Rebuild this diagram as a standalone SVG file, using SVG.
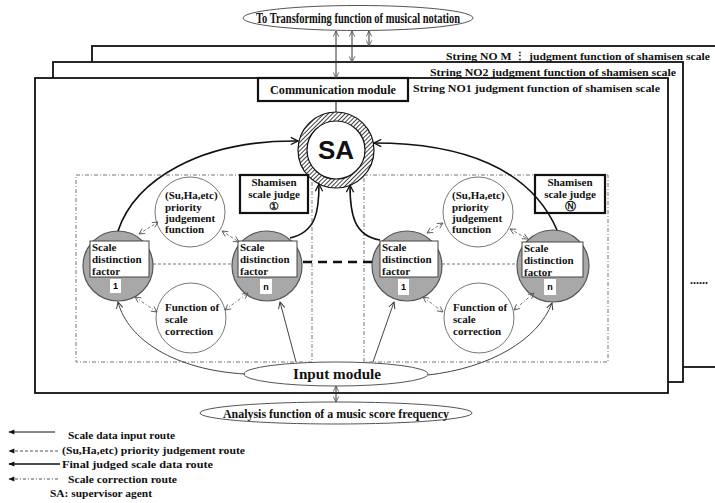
<svg xmlns="http://www.w3.org/2000/svg" width="715" height="503" viewBox="0 0 715 503">
  <style>
    .t { font-family: "Liberation Serif", "Times New Roman", serif; font-weight: bold; fill: #111; }
    .s11 { font-size: 11px; }
    .s12 { font-size: 12px; }
    .s14 { font-size: 14px; }
    .frame { fill: #fff; stroke: #111; stroke-width: 1.8; }
    .grp { fill: none; stroke: #777; stroke-width: 1; stroke-dasharray: 4 2 1 2; }
    .factor { fill: #a8a8a8; stroke: #555; stroke-width: 1.2; }
    .label { fill: #fff; stroke: #444; stroke-width: 1; }
    .func { fill: #fff; stroke: #777; stroke-width: 1; }
    .judge { fill: #fff; stroke: #111; stroke-width: 2.2; }
    .final { fill: none; stroke: #111; stroke-width: 1.6; marker-end: url(#openBig); }
    .input { fill: none; stroke: #444; stroke-width: 1; marker-end: url(#open); }
    .prio { fill: none; stroke: #777; stroke-width: 1; stroke-dasharray: 3 2; marker-start: url(#openSm); marker-end: url(#openSm); }
    .corr { fill: none; stroke: #777; stroke-width: 1; stroke-dasharray: 3 2 1 2; marker-start: url(#openSm); marker-end: url(#openSm); }
    .io { fill: none; stroke: #333; stroke-width: 1; marker-start: url(#openSm); marker-end: url(#openSm); }
  </style>
  <defs>
    <marker id="openBig" viewBox="0 0 10 10" refX="9" refY="5" markerWidth="9" markerHeight="9" markerUnits="userSpaceOnUse" orient="auto-start-reverse">
      <path d="M1,1 L9,5 L1,9" fill="none" stroke="#111" stroke-width="1.4"/>
    </marker>
    <marker id="open" viewBox="0 0 10 10" refX="9" refY="5" markerWidth="8" markerHeight="8" markerUnits="userSpaceOnUse" orient="auto-start-reverse">
      <path d="M1,1 L9,5 L1,9" fill="none" stroke="#333" stroke-width="1.2"/>
    </marker>
    <marker id="openSm" viewBox="0 0 10 10" refX="9" refY="5" markerWidth="7" markerHeight="7" markerUnits="userSpaceOnUse" orient="auto-start-reverse">
      <path d="M1,1 L9,5 L1,9" fill="none" stroke="#555" stroke-width="1.2"/>
    </marker>
    <marker id="legHead" viewBox="0 0 10 10" refX="9" refY="5" markerWidth="7" markerHeight="6" markerUnits="userSpaceOnUse" orient="auto">
      <path d="M10,5 L0,1 L0,9 Z" fill="#111"/>
    </marker>
    <pattern id="hatch" patternUnits="userSpaceOnUse" width="3" height="3" patternTransform="rotate(45)">
      <rect width="3" height="3" fill="#fff"/>
      <line x1="0" y1="0" x2="0" y2="3" stroke="#111" stroke-width="1.6"/>
    </pattern>
  </defs>

  <!-- stacked string frames, back to front -->
  <g id="frame-m">
    <rect class="frame" x="92" y="46" width="640" height="321"/>
    <text class="t s11" x="710" y="60" text-anchor="end" textLength="264" lengthAdjust="spacingAndGlyphs">String NO M ⋮ judgment function of shamisen scale</text>
  </g>
  <g id="frame-no2">
    <rect class="frame" x="53" y="62" width="630" height="320"/>
    <text class="t s11" x="676" y="76" text-anchor="end" textLength="246" lengthAdjust="spacingAndGlyphs">String NO2 judgment function of shamisen scale</text>
  </g>
  <g id="frame-no1">
    <rect class="frame" x="35" y="78" width="633" height="315"/>
    <text class="t s11" x="660" y="92" text-anchor="end" textLength="247" lengthAdjust="spacingAndGlyphs">String NO1 judgment function of shamisen scale</text>
  </g>
  <text class="t s12" x="690" y="284" font-weight="normal">......</text>

  <!-- judge groups -->
  <g id="group-1">
    <rect class="grp" x="76" y="175" width="236" height="187"/>
    <line x1="153" y1="264" x2="233" y2="264" stroke="#777" stroke-width="1" stroke-dasharray="3 2"/>
  </g>
  <g id="group-n">
    <rect class="grp" x="364" y="175" width="244" height="187"/>
    <line x1="442" y1="264" x2="519" y2="264" stroke="#777" stroke-width="1" stroke-dasharray="3 2"/>
  </g>

  <!-- top and bottom modules -->
  <g id="transform-notation">
    <ellipse cx="358" cy="18" rx="115" ry="12.5" fill="#fff" stroke="#555" stroke-width="1"/>
    <text class="t s14" x="358" y="23" text-anchor="middle" textLength="204" lengthAdjust="spacingAndGlyphs">To Transforming function of musical notation</text>
  </g>
  <g id="communication-module">
    <rect x="258" y="78" width="150" height="23" fill="#fff" stroke="#111" stroke-width="2.2"/>
    <text class="t s12" x="333" y="94" text-anchor="middle" textLength="126" lengthAdjust="spacingAndGlyphs">Communication module</text>
  </g>
  <g id="input-module">
    <ellipse cx="336" cy="374" rx="92" ry="12" fill="#fff" stroke="#555" stroke-width="1"/>
    <text class="t s14" x="337" y="379" text-anchor="middle" textLength="88" lengthAdjust="spacingAndGlyphs">Input module</text>
  </g>
  <g id="analysis-function">
    <ellipse cx="336" cy="413" rx="136" ry="11" fill="#fff" stroke="#555" stroke-width="1"/>
    <text class="t s12" x="336" y="418" text-anchor="middle" textLength="226" lengthAdjust="spacingAndGlyphs">Analysis function of a music score frequency</text>
  </g>

  <!-- supervisor agent -->
  <g id="sa">
    <circle cx="336" cy="150" r="33.5" fill="none" stroke="url(#hatch)" stroke-width="9"/>
    <circle cx="336" cy="150" r="38" fill="none" stroke="#111" stroke-width="1.2"/>
    <circle cx="336" cy="150" r="29" fill="#fff" stroke="#111" stroke-width="1.2"/>
    <text x="336" y="159" text-anchor="middle" font-family="Liberation Sans, Arial, sans-serif" font-weight="bold" font-size="26" fill="#111">SA</text>
  </g>

  <!-- judge labels -->
  <g id="judge-1">
    <rect class="judge" x="240" y="175" width="68" height="38"/>
    <text class="t s11" x="274" y="186" text-anchor="middle">Shamisen</text>
    <text class="t s11" x="274" y="198" text-anchor="middle">scale judge</text>
    <text class="t s11" x="274" y="210" text-anchor="middle">①</text>
  </g>
  <g id="judge-n">
    <rect class="judge" x="535" y="175" width="70" height="38"/>
    <text class="t s11" x="570" y="186" text-anchor="middle">Shamisen</text>
    <text class="t s11" x="570" y="198" text-anchor="middle">scale judge</text>
    <text class="t s11" x="570" y="210" text-anchor="middle">Ⓝ</text>
  </g>

  <!-- function circles -->
  <g id="priority-1">
    <circle class="func" cx="190" cy="212" r="35"/>
    <text class="t s11" x="165" y="199">(Su,Ha,etc)</text>
    <text class="t s11" x="165" y="211">priority</text>
    <text class="t s11" x="165" y="222">judgement</text>
    <text class="t s11" x="165" y="233">function</text>
  </g>
  <g id="priority-n">
    <circle class="func" cx="478" cy="212" r="35"/>
    <text class="t s11" x="452" y="199">(Su,Ha,etc)</text>
    <text class="t s11" x="452" y="211">priority</text>
    <text class="t s11" x="452" y="222">judgement</text>
    <text class="t s11" x="452" y="233">function</text>
  </g>
  <g id="correction-1">
    <circle class="func" cx="191" cy="318" r="35"/>
    <text class="t s11" x="165" y="311">Function of</text>
    <text class="t s11" x="165" y="323">scale</text>
    <text class="t s11" x="165" y="335">correction</text>
  </g>
  <g id="correction-n">
    <circle class="func" cx="479" cy="318" r="35"/>
    <text class="t s11" x="453" y="311">Function of</text>
    <text class="t s11" x="453" y="323">scale</text>
    <text class="t s11" x="453" y="335">correction</text>
  </g>

  <!-- scale distinction factors -->
  <g id="factor-1a">
    <circle class="factor" cx="118" cy="266" r="35"/>
    <rect class="label" x="90" y="241" width="59" height="36"/>
    <text class="t s11" x="92" y="251">Scale</text>
    <text class="t s11" x="92" y="263">distinction</text>
    <text class="t s11" x="92" y="275">factor</text>
    <rect x="110" y="279" width="11" height="14" fill="#fff"/>
    <text x="115.5" y="289" text-anchor="middle" font-family="Liberation Sans, Arial, sans-serif" font-weight="bold" font-size="9">1</text>
  </g>
  <g id="factor-na">
    <circle class="factor" cx="267" cy="266" r="35"/>
    <rect class="label" x="238" y="241" width="59" height="36"/>
    <text class="t s11" x="240" y="251">Scale</text>
    <text class="t s11" x="240" y="263">distinction</text>
    <text class="t s11" x="240" y="275">factor</text>
    <rect x="260" y="279" width="12" height="15" fill="#fff"/>
    <text x="266" y="290" text-anchor="middle" font-family="Liberation Sans, Arial, sans-serif" font-weight="bold" font-size="9">n</text>
  </g>
  <g id="factor-1b">
    <circle class="factor" cx="407" cy="266" r="35"/>
    <rect class="label" x="380" y="241" width="58" height="36"/>
    <text class="t s11" x="382" y="251">Scale</text>
    <text class="t s11" x="382" y="263">distinction</text>
    <text class="t s11" x="382" y="275">factor</text>
    <rect x="398" y="279" width="11" height="16" fill="#fff"/>
    <text x="403.5" y="290" text-anchor="middle" font-family="Liberation Sans, Arial, sans-serif" font-weight="bold" font-size="9">1</text>
  </g>
  <g id="factor-nb">
    <circle class="factor" cx="553" cy="266" r="36"/>
    <rect class="label" x="522" y="242" width="61" height="35"/>
    <text class="t s11" x="524" y="252">Scale</text>
    <text class="t s11" x="524" y="264">distinction</text>
    <text class="t s11" x="524" y="276">factor</text>
    <rect x="544" y="279" width="12" height="16" fill="#fff"/>
    <text x="550" y="290" text-anchor="middle" font-family="Liberation Sans, Arial, sans-serif" font-weight="bold" font-size="9">n</text>
  </g>

  <!-- connectors -->
  <g id="connectors">
    <!-- notation / communication links -->
    <line class="io" x1="336" y1="31" x2="336" y2="78"/>
    <line class="io" x1="352" y1="31" x2="352" y2="62"/>
    <line class="io" x1="369" y1="31" x2="369" y2="46"/>
    <line x1="336" y1="101" x2="336" y2="112" stroke="#111" stroke-width="1"/>
    <line class="io" x1="336" y1="386" x2="336" y2="402"/>
    <!-- final judged scale data routes -->
    <path class="final" d="M118,231 C135,180 200,140 298,141"/>
    <path class="final" d="M290,238 C316,232 319,212 319,184"/>
    <path class="final" d="M380,240 C354,236 350,214 350,185"/>
    <path class="final" d="M557,230 C530,168 462,143 374,143"/>
    <!-- scale data input routes -->
    <path class="input" d="M245,374 C175,370 128,340 118,302"/>
    <path class="input" d="M296,362 L280,302"/>
    <path class="input" d="M373,362 L394,302"/>
    <path class="input" d="M428,375 C490,368 538,340 552,303"/>
    <!-- priority judgement routes -->
    <line class="prio" x1="139" y1="234" x2="158" y2="222"/>
    <line class="prio" x1="222" y1="231" x2="239" y2="242"/>
    <line class="prio" x1="427" y1="233" x2="443" y2="223"/>
    <line class="prio" x1="510" y1="229" x2="528" y2="239"/>
    <!-- scale correction routes -->
    <line class="corr" x1="135" y1="297" x2="157" y2="312"/>
    <line class="corr" x1="225" y1="310" x2="248" y2="293"/>
    <line class="corr" x1="423" y1="297" x2="443" y2="312"/>
    <line class="corr" x1="514" y1="310" x2="534" y2="293"/>
    <!-- link between judge groups -->
    <line x1="303" y1="262" x2="373" y2="262" stroke="#111" stroke-width="2.5" stroke-dasharray="9 6"/>
  </g>

  <!-- legend -->
  <g id="legend">
    <line x1="55" y1="432" x2="9" y2="432" stroke="#111" stroke-width="1" marker-end="url(#legHead)"/>
    <text class="t s11" x="68" y="439" textLength="107" lengthAdjust="spacingAndGlyphs">Scale data input route</text>
    <line x1="58" y1="451" x2="9" y2="451" stroke="#555" stroke-width="1" stroke-dasharray="3 2" marker-end="url(#legHead)"/>
    <text class="t s11" x="62" y="454" textLength="183" lengthAdjust="spacingAndGlyphs">(Su,Ha,etc) priority judgement route</text>
    <line x1="60" y1="464" x2="9" y2="464" stroke="#111" stroke-width="1.6" marker-end="url(#legHead)"/>
    <text class="t s11" x="62" y="468" textLength="151" lengthAdjust="spacingAndGlyphs">Final judged scale data route</text>
    <line x1="58" y1="479" x2="9" y2="479" stroke="#555" stroke-width="1" stroke-dasharray="3 2 1 2" marker-end="url(#legHead)"/>
    <text class="t s11" x="68" y="483" textLength="109" lengthAdjust="spacingAndGlyphs">Scale correction route</text>
    <text class="t s11" x="50" y="497" textLength="102" lengthAdjust="spacingAndGlyphs">SA: supervisor agent</text>
  </g>
</svg>
